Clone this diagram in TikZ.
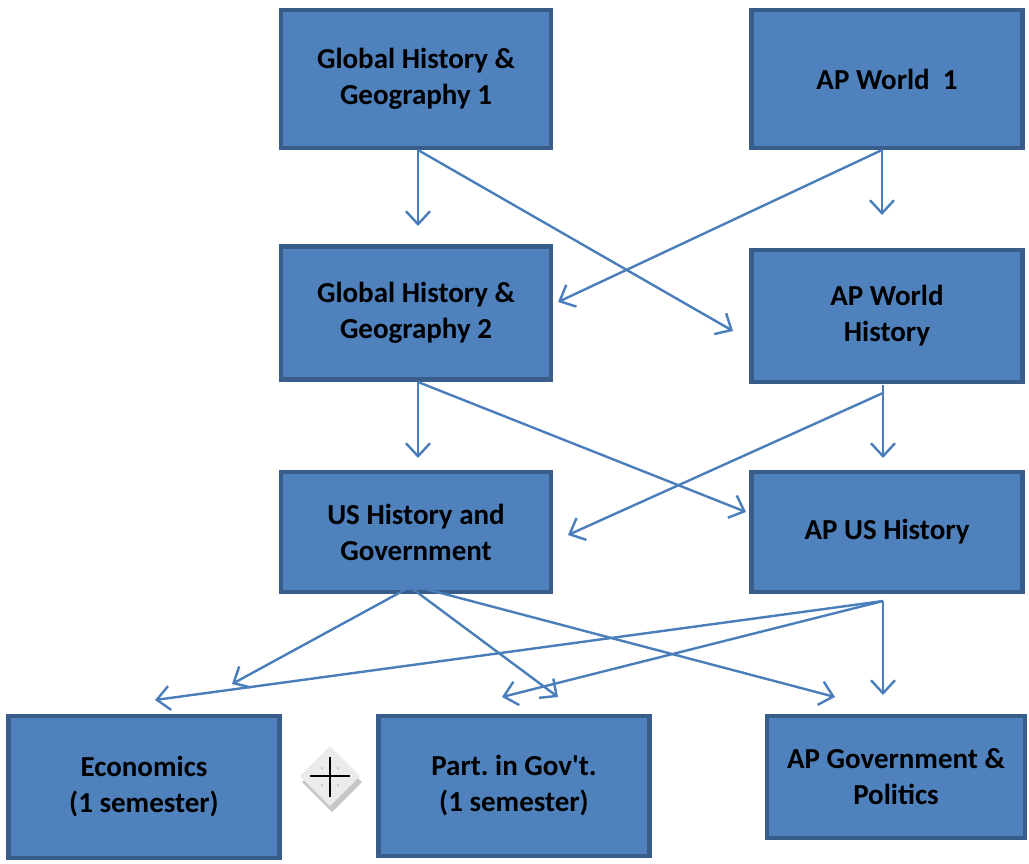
\documentclass[tikz,border=0pt]{standalone}
\usepackage{fontspec}
\setmainfont{Carlito}[Ligatures=TeXOff]
\usetikzlibrary{arrows.meta}
\definecolor{boxfill}{HTML}{4F81BD}
\definecolor{boxline}{HTML}{385D8A}
\definecolor{arr}{HTML}{4A7EBB}
\tikzset{
  course/.style={draw=boxline, line width=4.5pt, fill=boxfill, inner sep=0pt, align=center,
    font=\fontsize{29}{36}\selectfont\bfseries},
  link/.style={draw=arr, line width=2.4pt, -{Straight Barb[length=13pt,width=24pt,line width=2.4pt]}}
}
\begin{document}
\frenchspacing
\begin{tikzpicture}[x=1pt,y=-1pt]
\useasboundingbox (0,0) rectangle (1029,863);
% boxes
\node[course, minimum width=270pt, minimum height=138pt] (g1) at (416,79) {Global History \&\\Geography 1};
\node[course, minimum width=271pt, minimum height=138pt] (w1) at (887,79) {AP World\ \ 1};
\node[course, minimum width=270pt, minimum height=133pt] (g2) at (416,313) {Global History \&\\Geography 2};
\node[course, minimum width=271pt, minimum height=132pt] (w2) at (887,316) {AP World\\History};
\node[course, minimum width=270pt, minimum height=120pt] (us) at (416,532) {US History and\\Government};
\node[course, minimum width=271pt, minimum height=120pt] (apus) at (887,532) {AP US History};
\node[course, minimum width=271pt, minimum height=142pt] (eco) at (144,787) {Economics\\(1 semester)};
\node[course, minimum width=271pt, minimum height=140pt] (pig) at (514,786) {Part. in Gov't.\\(1 semester)};
\node[course, minimum width=258pt, minimum height=122pt] (apg) at (896,777) {AP Government \&\\Politics};
% plus icon
\fill[black!22] (332,752) -- (362,782) -- (332,812) -- (302,782) -- cycle;
\fill[black!8] (330,746) -- (360,776) -- (330,806) -- (300,776) -- cycle;
\draw[black, line width=1.8pt] (330,757) -- (330,797) (310,776) -- (350,776);
\fill[black!30] (322,768) circle (1pt) (338,768) circle (1pt) (322,785) circle (1pt) (338,785) circle (1pt);
% connector end points
\coordinate (g1s) at (418,150);
\coordinate (w1s) at (882,150);
\coordinate (g2s) at (418,382);
\coordinate (w2v) at (883,385);
\coordinate (w2s) at (883,393);
\coordinate (uss) at (410,587);
\coordinate (uss2) at (418,587);
\coordinate (apuss) at (883,601);
\coordinate (t1) at (418,226);
\coordinate (t2) at (733,331);
\coordinate (t3) at (882,215);
\coordinate (t4) at (558,302);
\coordinate (t5) at (418,458);
\coordinate (t6) at (746,512);
\coordinate (t7) at (883,458);
\coordinate (t8) at (568,535);
\coordinate (t9) at (232,684);
\coordinate (t10) at (558,697);
\coordinate (t11) at (835,697);
\coordinate (t12) at (155,700);
\coordinate (t13) at (502,697);
\coordinate (t14) at (883,695);
% connectors
\draw[link] (g1s) -- (t1);
\draw[link] (g1s) -- (t2);
\draw[link] (w1s) -- (t3);
\draw[link] (w1s) -- (t4);
\draw[link] (g2s) -- (t5);
\draw[link] (g2s) -- (t6);
\draw[link] (w2v) -- (t7);
\draw[link] (w2s) -- (t8);
\draw[link] (uss) -- (t9);
\draw[link] (uss) -- (t10);
\draw[link] (uss2) -- (t11);
\draw[link] (apuss) -- (t12);
\draw[link] (apuss) -- (t13);
\draw[link] (apuss) -- (t14);
\end{tikzpicture}
\end{document}
